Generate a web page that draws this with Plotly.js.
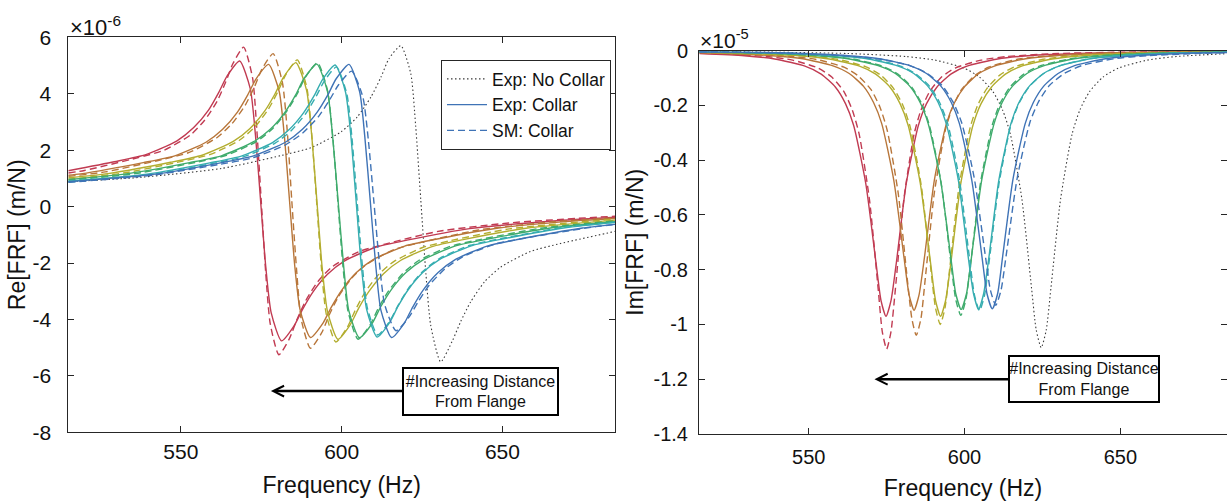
<!DOCTYPE html>
<html>
<head>
<meta charset="utf-8">
<script src="https://cdn.plot.ly/plotly-3.0.1.min.js"></script>
<style>html,body{margin:0;padding:0;background:#fff}#plot{width:1227px;height:501px}</style>
</head>
<body>
<div id="plot"></div>
<script>
// ---- tick labels ----
const xTickVals = [550, 600, 650];
const xTickText = ['550', '600', '650'];
const reTickVals = [-8, -6, -4, -2, 0, 2, 4, 6];
const reTickText = ['-8', '-6', '-4', '-2', '0', '2', '4', '6'];
const imTickVals = [-1.4, -1.2, -1, -0.8, -0.6, -0.4, -0.2, 0];
const imTickText = ['-1.4', '-1.2', '-1', '-0.8', '-0.6', '-0.4', '-0.2', '0'];

// ---- data: frequency (Hz), Re[FRF] (x1e-6 m/N), Im[FRF] (x1e-5 m/N) ----
// Red
const fRedExp = [515, 529.3, 539.1, 548.8, 554.0, 558.6, 561.8, 564.4, 568.3, 571.6, 573.2, 574.8, 576.4, 578.1, 581.3, 585.2, 587.8, 591.1, 595.6, 600.8, 610.6, 620.3, 639.8, 665.8, 685];
const reRedExp = [1.27, 1.59, 1.84, 2.33, 2.80, 3.42, 4.05, 4.63, 5.16, 4.17, 2.53, 0.2, -2.13, -3.77, -4.76, -4.23, -3.65, -3.02, -2.40, -1.93, -1.44, -1.19, -0.78, -0.51, -0.38];
const imRedExp = [-0.011, -0.019, -0.031, -0.057, -0.086, -0.134, -0.194, -0.273, -0.485, -0.776, -0.913, -0.97, -0.913, -0.776, -0.485, -0.273, -0.194, -0.134, -0.086, -0.057, -0.031, -0.019, -0.010, -0.005, -0.003];
const fRedSM = [515, 520.0, 536.5, 544.8, 553.0, 557.4, 561.3, 564.0, 566.2, 569.5, 572.3, 573.6, 575.0, 576.4, 577.8, 580.5, 583.8, 586.0, 588.8, 592.6, 597.0, 605.3, 613.5, 630.0, 652.0, 685];
const reRedSM = [1.19, 1.28, 1.73, 2.00, 2.54, 3.06, 3.74, 4.43, 5.07, 5.65, 4.56, 2.76, 0.2, -2.37, -4.16, -5.25, -4.67, -4.03, -3.34, -2.66, -2.14, -1.60, -1.33, -0.88, -0.58, -0.34];
const imRedSM = [-0.009, -0.011, -0.022, -0.035, -0.064, -0.097, -0.150, -0.218, -0.306, -0.545, -0.872, -1.026, -1.09, -1.026, -0.872, -0.545, -0.306, -0.218, -0.150, -0.097, -0.064, -0.035, -0.022, -0.011, -0.006, -0.003];
// Brown
const fBrownExp = [515, 518.8, 538.3, 548.1, 557.8, 563.0, 567.6, 570.8, 573.4, 577.3, 580.6, 582.2, 583.8, 585.4, 587.1, 590.3, 594.2, 596.8, 600.1, 604.6, 609.8, 619.6, 629.3, 648.8, 674.8, 685];
const reBrownExp = [1.11, 1.16, 1.56, 1.80, 2.28, 2.74, 3.35, 3.96, 4.53, 5.04, 4.07, 2.48, 0.2, -2.08, -3.67, -4.64, -4.13, -3.56, -2.95, -2.34, -1.88, -1.40, -1.16, -0.76, -0.49, -0.42];
const imBrownExp = [-0.008, -0.009, -0.019, -0.030, -0.056, -0.084, -0.131, -0.190, -0.266, -0.474, -0.758, -0.892, -0.948, -0.892, -0.758, -0.474, -0.266, -0.190, -0.131, -0.084, -0.056, -0.030, -0.019, -0.009, -0.005, -0.004];
const fBrownSM = [515, 526.5, 543.9, 552.6, 561.3, 565.9, 570.0, 572.9, 575.2, 578.7, 581.6, 583.1, 584.5, 586.0, 587.4, 590.3, 593.8, 596.1, 599.0, 603.1, 607.7, 616.4, 625.1, 642.5, 665.7, 685];
const reBrownSM = [1.07, 1.23, 1.66, 1.92, 2.45, 2.94, 3.59, 4.25, 4.87, 5.42, 4.38, 2.66, 0.2, -2.26, -3.98, -5.02, -4.47, -3.85, -3.19, -2.54, -2.05, -1.52, -1.26, -0.83, -0.54, -0.40];
const imBrownSM = [-0.007, -0.010, -0.021, -0.033, -0.061, -0.093, -0.143, -0.208, -0.292, -0.52, -0.832, -0.979, -1.04, -0.979, -0.832, -0.52, -0.292, -0.208, -0.143, -0.093, -0.061, -0.033, -0.021, -0.010, -0.005, -0.004];
// Olive
const fOliveExp = [515, 527.3, 546.8, 556.6, 566.3, 571.5, 576.1, 579.3, 581.9, 585.8, 589.1, 590.7, 592.3, 593.9, 595.6, 598.8, 602.7, 605.3, 608.6, 613.1, 618.3, 628.1, 637.8, 657.3, 685];
const reOliveExp = [1.02, 1.17, 1.57, 1.82, 2.31, 2.77, 3.39, 4.00, 4.58, 5.10, 4.12, 2.51, 0.2, -2.11, -3.72, -4.70, -4.18, -3.60, -2.99, -2.37, -1.91, -1.42, -1.17, -0.77, -0.48];
const imOliveExp = [-0.007, -0.010, -0.019, -0.031, -0.057, -0.086, -0.134, -0.194, -0.273, -0.485, -0.776, -0.913, -0.97, -0.913, -0.776, -0.485, -0.273, -0.194, -0.134, -0.086, -0.057, -0.031, -0.019, -0.010, -0.005];
const fOliveSM = [515, 532.2, 550.2, 559.2, 568.2, 573.0, 577.2, 580.2, 582.6, 586.2, 589.2, 590.7, 592.2, 593.7, 595.2, 598.2, 601.8, 604.2, 607.2, 611.4, 616.2, 625.2, 634.2, 652.2, 685];
const reOliveSM = [0.97, 1.19, 1.60, 1.85, 2.35, 2.82, 3.45, 4.08, 4.67, 5.2, 4.2, 2.55, 0.2, -2.15, -3.8, -4.8, -4.27, -3.68, -3.05, -2.42, -1.95, -1.45, -1.2, -0.79, -0.44];
const imOliveSM = [-0.006, -0.010, -0.020, -0.032, -0.059, -0.089, -0.138, -0.2, -0.281, -0.5, -0.8, -0.941, -1.0, -0.941, -0.8, -0.5, -0.281, -0.2, -0.138, -0.089, -0.059, -0.032, -0.020, -0.010, -0.004];
// Green
const fGreenExp = [515, 532.9, 552.7, 562.6, 572.5, 577.8, 582.4, 585.7, 588.3, 592.3, 595.6, 597.2, 598.9, 600.6, 602.2, 605.5, 609.5, 612.1, 615.4, 620.0, 625.3, 635.2, 645.1, 664.9, 685];
const reGreenExp = [0.96, 1.16, 1.56, 1.80, 2.29, 2.74, 3.35, 3.96, 4.54, 5.05, 4.08, 2.48, 0.2, -2.08, -3.68, -4.65, -4.14, -3.56, -2.95, -2.34, -1.89, -1.40, -1.16, -0.76, -0.54];
const imGreenExp = [-0.006, -0.009, -0.019, -0.030, -0.056, -0.084, -0.130, -0.189, -0.266, -0.473, -0.756, -0.889, -0.945, -0.889, -0.756, -0.473, -0.266, -0.189, -0.130, -0.084, -0.056, -0.030, -0.019, -0.009, -0.006];
const fGreenSM = [515, 535.8, 554.7, 564.2, 573.6, 578.6, 583.0, 586.2, 588.7, 592.5, 595.6, 597.2, 598.8, 600.4, 602.0, 605.1, 608.9, 611.4, 614.6, 619.0, 624.0, 633.5, 642.9, 661.8, 685];
const reGreenSM = [0.93, 1.17, 1.57, 1.82, 2.31, 2.77, 3.39, 4.00, 4.58, 5.1, 4.12, 2.51, 0.2, -2.11, -3.72, -4.70, -4.18, -3.60, -2.99, -2.37, -1.91, -1.42, -1.17, -0.77, -0.51];
const imGreenSM = [-0.005, -0.010, -0.019, -0.031, -0.057, -0.086, -0.133, -0.193, -0.272, -0.484, -0.774, -0.910, -0.967, -0.910, -0.774, -0.484, -0.272, -0.193, -0.133, -0.086, -0.057, -0.031, -0.019, -0.010, -0.005];
// Cyan
const fCyanExp = [515, 539.5, 559.0, 568.8, 578.5, 583.7, 588.2, 591.5, 594.1, 598.0, 601.2, 602.9, 604.5, 606.1, 607.8, 611.0, 614.9, 617.5, 620.8, 625.3, 630.5, 640.3, 650.0, 669.5, 685];
const reCyanExp = [0.90, 1.15, 1.55, 1.79, 2.27, 2.73, 3.33, 3.94, 4.51, 5.02, 4.06, 2.47, 0.2, -2.07, -3.66, -4.62, -4.11, -3.54, -2.93, -2.33, -1.87, -1.39, -1.15, -0.75, -0.57];
const imCyanExp = [-0.005, -0.009, -0.019, -0.030, -0.056, -0.084, -0.130, -0.189, -0.266, -0.473, -0.756, -0.889, -0.945, -0.889, -0.756, -0.473, -0.266, -0.189, -0.130, -0.084, -0.056, -0.030, -0.019, -0.009, -0.006];
const fCyanSM = [515, 540.8, 560.0, 569.6, 579.2, 584.3, 588.8, 592.0, 594.6, 598.4, 601.6, 603.2, 604.8, 606.4, 608.0, 611.2, 615.0, 617.6, 620.8, 625.3, 630.4, 640.0, 649.6, 668.8, 685];
const reCyanSM = [0.87, 1.14, 1.53, 1.77, 2.24, 2.69, 3.29, 3.89, 4.45, 4.95, 4.0, 2.44, 0.2, -2.04, -3.6, -4.55, -4.05, -3.49, -2.89, -2.29, -1.84, -1.37, -1.13, -0.74, -0.55];
const imCyanSM = [-0.005, -0.009, -0.019, -0.030, -0.056, -0.085, -0.131, -0.19, -0.267, -0.475, -0.76, -0.894, -0.95, -0.894, -0.76, -0.475, -0.267, -0.19, -0.131, -0.085, -0.056, -0.030, -0.019, -0.009, -0.006];
// Blue
const fBlueExp = [515, 542.9, 562.7, 572.6, 582.5, 587.8, 592.4, 595.7, 598.3, 602.3, 605.6, 607.2, 608.9, 610.6, 612.2, 615.5, 619.5, 622.1, 625.4, 630.0, 635.3, 645.2, 655.1, 674.9, 685];
const reBlueExp = [0.88, 1.16, 1.56, 1.80, 2.28, 2.74, 3.35, 3.96, 4.53, 5.04, 4.07, 2.48, 0.2, -2.08, -3.67, -4.64, -4.13, -3.56, -2.95, -2.34, -1.88, -1.40, -1.16, -0.76, -0.63];
const imBlueExp = [-0.005, -0.009, -0.019, -0.030, -0.055, -0.084, -0.130, -0.189, -0.265, -0.472, -0.754, -0.888, -0.943, -0.888, -0.754, -0.472, -0.265, -0.189, -0.130, -0.084, -0.055, -0.030, -0.019, -0.009, -0.007];
const fBlueSM = [515, 541.0, 561.7, 572.1, 582.4, 587.9, 592.8, 596.2, 599.0, 603.1, 606.6, 608.3, 610.0, 611.7, 613.4, 616.9, 621.0, 623.8, 627.2, 632.1, 637.6, 648.0, 658.3, 679.0, 685];
const reBlueSM = [0.86, 1.11, 1.49, 1.72, 2.18, 2.61, 3.19, 3.77, 4.31, 4.8, 3.88, 2.36, 0.2, -1.96, -3.48, -4.4, -3.91, -3.37, -2.79, -2.21, -1.78, -1.32, -1.09, -0.71, -0.64];
const imBlueSM = [-0.005, -0.009, -0.019, -0.030, -0.055, -0.083, -0.128, -0.186, -0.261, -0.465, -0.744, -0.875, -0.93, -0.875, -0.744, -0.465, -0.261, -0.186, -0.128, -0.083, -0.055, -0.030, -0.019, -0.009, -0.008];
// No collar
const fNoCollar = [515, 537.8, 562.6, 581.2, 590.5, 599.8, 604.8, 609.1, 612.2, 614.7, 618.4, 621.5, 623.0, 624.6, 626.2, 627.7, 630.8, 634.5, 637.0, 640.1, 644.4, 649.4, 658.7, 668.0, 685];
const reNoCollar = [0.88, 1.04, 1.35, 1.81, 2.09, 2.65, 3.17, 3.88, 4.58, 5.24, 5.70, 4.71, 2.88, 0.25, -2.38, -4.21, -5.50, -4.74, -4.08, -3.38, -2.67, -2.15, -1.59, -1.31, -0.88];
const imNoCollar = [-0.004, -0.006, -0.011, -0.022, -0.035, -0.064, -0.097, -0.150, -0.217, -0.305, -0.543, -0.868, -1.021, -1.085, -1.021, -0.868, -0.543, -0.305, -0.217, -0.150, -0.097, -0.064, -0.035, -0.022, -0.011];

// ---- styles ----
const colRed = '#c13b52', colBrown = '#b8763a', colOlive = '#b3ad2f', colGreen = '#3fab6c', colCyan = '#36adb0', colBlue = '#3f73b6', colNo = '#3a3a3a';

const series = [
  {f: fRedExp, re: reRedExp, im: imRedExp, color: colRed, sm: false},
  {f: fRedSM, re: reRedSM, im: imRedSM, color: colRed, sm: true},
  {f: fBrownExp, re: reBrownExp, im: imBrownExp, color: colBrown, sm: false},
  {f: fBrownSM, re: reBrownSM, im: imBrownSM, color: colBrown, sm: true},
  {f: fOliveExp, re: reOliveExp, im: imOliveExp, color: colOlive, sm: false},
  {f: fOliveSM, re: reOliveSM, im: imOliveSM, color: colOlive, sm: true},
  {f: fGreenExp, re: reGreenExp, im: imGreenExp, color: colGreen, sm: false},
  {f: fGreenSM, re: reGreenSM, im: imGreenSM, color: colGreen, sm: true},
  {f: fCyanExp, re: reCyanExp, im: imCyanExp, color: colCyan, sm: false},
  {f: fCyanSM, re: reCyanSM, im: imCyanSM, color: colCyan, sm: true},
  {f: fBlueExp, re: reBlueExp, im: imBlueExp, color: colBlue, sm: false, legend: true},
  {f: fBlueSM, re: reBlueSM, im: imBlueSM, color: colBlue, sm: true, legend: true}
];

const traces = [];
const noLine = {color: colNo, width: 1.1, dash: '1.5px,2.5px', shape: 'spline', smoothing: 0.6};
traces.push({x: fNoCollar, y: reNoCollar, xaxis: 'x', yaxis: 'y', type: 'scatter', mode: 'lines',
  name: 'Exp: No Collar', legendrank: 1, showlegend: true, line: noLine});
traces.push({x: fNoCollar, y: imNoCollar, xaxis: 'x2', yaxis: 'y2', type: 'scatter', mode: 'lines',
  name: 'Exp: No Collar', showlegend: false, line: noLine});
series.forEach(s => {
  const line = {color: s.color, width: 1.4, dash: s.sm ? '7px,4px' : 'solid', shape: 'spline', smoothing: 0.6};
  const nm = s.sm ? 'SM: Collar' : 'Exp: Collar';
  traces.push({x: s.f, y: s.re, xaxis: 'x', yaxis: 'y', type: 'scatter', mode: 'lines', name: nm,
    showlegend: !!s.legend, legendrank: s.sm ? 3 : 2, line: line});
  traces.push({x: s.f, y: s.im, xaxis: 'x2', yaxis: 'y2', type: 'scatter', mode: 'lines', name: nm,
    showlegend: false, line: line});
});

const W = 1227, H = 501;
const axisCol = '#262626';
const common = {showline: true, linecolor: axisCol, linewidth: 1, ticks: 'inside', ticklen: 6,
  tickcolor: axisCol, mirror: 'ticks', showgrid: false, zeroline: false, fixedrange: true};

const layout = {
  width: W, height: H,
  margin: {l: 0, r: 0, t: 0, b: 0},
  paper_bgcolor: '#ffffff', plot_bgcolor: '#ffffff',
  font: {family: 'Liberation Sans, Arial, Helvetica, sans-serif', color: '#111111'},
  showlegend: true,
  legend: {x: 611 / W, xanchor: 'right', y: 1 - 60 / H, yanchor: 'top',
    bordercolor: axisCol, borderwidth: 1, bgcolor: '#ffffff',
    font: {size: 17.5, color: '#111111'}, tracegroupgap: 0, itemwidth: 40, traceorder: 'normal'},
  xaxis: Object.assign({}, common, {domain: [68.3 / W, 615 / W], range: [515, 685], anchor: 'y',
    tickvals: xTickVals, ticktext: xTickText, tickfont: {size: 21}, ticklabelstandoff: 0,
    title: {text: 'Frequency (Hz)', font: {size: 23}, standoff: 15}}),
  yaxis: Object.assign({}, common, {domain: [1 - 432.3 / H, 1 - 37.3 / H], range: [-8, 6], anchor: 'x',
    tickvals: reTickVals, ticktext: reTickText, tickfont: {size: 21}, ticklabelstandoff: 12,
    title: {text: 'Re[FRF] (m/N)', font: {size: 23}, standoff: 0}}),
  xaxis2: Object.assign({}, common, {domain: [699 / W, 1], range: [514.8, 684.2], anchor: 'y2',
    tickvals: xTickVals, ticktext: xTickText, tickfont: {size: 20}, ticklabelstandoff: 5,
    title: {text: 'Frequency (Hz)', font: {size: 23}, standoff: 14}}),
  yaxis2: Object.assign({}, common, {domain: [1 - 434 / H, 1 - 50.5 / H], range: [-1.4, 0], anchor: 'x2',
    tickvals: imTickVals, ticktext: imTickText, tickfont: {size: 20}, ticklabelstandoff: 6,
    title: {text: 'Im[FRF] (m/N)', font: {size: 23}, standoff: 3}}),
  annotations: [
    {xref: 'paper', yref: 'paper', x: 68 / W, y: 1 - 42 / H, xanchor: 'left', yanchor: 'bottom',
      text: '×10<sup>-6</sup>', showarrow: false, font: {size: 22, color: '#111111'}},
    {xref: 'paper', yref: 'paper', x: 698 / W, y: 1 - 54 / H, xanchor: 'left', yanchor: 'bottom',
      text: '×10<sup>-5</sup>', showarrow: false, font: {size: 21, color: '#111111'}},
    {xref: 'x', yref: 'y', x: 578, y: -6.54, axref: 'pixel', ayref: 'pixel', ax: 210, ay: 0,
      text: '#Increasing Distance<br>From Flange', showarrow: true, arrowhead: 5, arrowsize: 0.85,
      arrowwidth: 2.5, arrowcolor: '#000000', bordercolor: '#000000', borderwidth: 2, borderpad: 0,
      bgcolor: '#ffffff', width: 153, height: 45, font: {size: 16, color: '#111111'}},
    {xref: 'x2', yref: 'y2', x: 571.1, y: -1.20, axref: 'pixel', ayref: 'pixel', ax: 209.5, ay: 0,
      text: '#Increasing Distance<br>From Flange', showarrow: true, arrowhead: 5, arrowsize: 0.85,
      arrowwidth: 2.5, arrowcolor: '#000000', bordercolor: '#000000', borderwidth: 2, borderpad: 0,
      bgcolor: '#ffffff', width: 148, height: 44, font: {size: 16, color: '#111111'}}
  ]
};

Plotly.newPlot('plot', traces, layout, {displayModeBar: false, staticPlot: true});
</script>
</body>
</html>
